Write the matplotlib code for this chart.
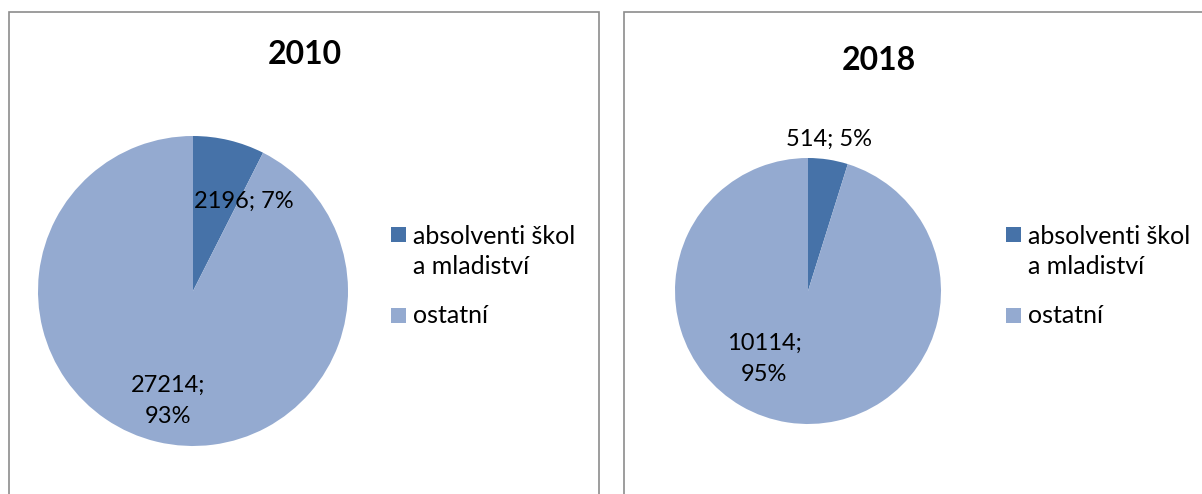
import matplotlib
matplotlib.use("Agg")
import matplotlib.pyplot as plt
from matplotlib.patches import Rectangle

plt.rcParams["font.family"] = ["Lato", "DejaVu Sans"]

# data
years = ["2010", "2018"]
categories = ["absolventi škol\na mladiství", "ostatní"]
values_2010 = [2196, 27214]
values_2018 = [514, 10114]
pct_2010 = ["7%", "93%"]
pct_2018 = ["5%", "95%"]
colors = ["#4672A8", "#94AAD0"]

W, H = 1202, 494
fig = plt.figure(figsize=(W / 100, H / 100), dpi=100)


def px_axes(cx, cy, r):
    # axes centred on pixel (cx, cy) measured from top-left
    return fig.add_axes([(cx - r) / W, (H - cy - r) / H, 2 * r / W, 2 * r / H])


def px_rect(x, y, w, h, **kw):
    # rectangle from top-left pixel coords
    fig.patches.append(Rectangle((x / W, 1 - (y + h) / H), w / W, h / H,
                                 transform=fig.transFigure, **kw))


# panel frames
for x0, x1 in [(8.5, 598.5), (623.5, 1210)]:
    px_rect(x0, 11.5, x1 - x0, H + 20, fill=False, edgecolor="#8c8c8c",
            linewidth=1.2)

panels = [
    dict(cx=193, cy=291, r=155, title_x=305, title_y=55, values=values_2010,
         pct=pct_2010, label_pos=[(0.33, 0.58), (-0.16, -0.71)],
         label_fmt=["{}; {}", "{};\n{}"], leg_x=391),
    dict(cx=808, cy=291, r=133, title_x=879, title_y=60, values=values_2018,
         pct=pct_2018, label_pos=[(0.16, 1.14), (-0.33, -0.51)],
         label_fmt=["{}; {}", "{};\n{}"], leg_x=1006),
]

# legend rows: square top (px) and text top (px)
leg_square_y = [227, 307.5]
leg_text_y = [225, 304]

for year, p in zip(years, panels):
    ax = px_axes(p["cx"], p["cy"], p["r"])
    wedges, _ = ax.pie(p["values"], colors=colors, startangle=90,
                       counterclock=False, radius=1)
    ax.set_xlim(-1, 1)
    ax.set_ylim(-1, 1)
    ax.set_aspect("auto")
    ax.axis("off")
    for (lx, ly), fmt, v, pc in zip(p["label_pos"], p["label_fmt"],
                                    p["values"], p["pct"]):
        ax.text(lx, ly, fmt.format(v, pc), ha="center", va="center",
                fontsize=17, linespacing=1.6, clip_on=False)
    fig.text(p["title_x"] / W, 1 - p["title_y"] / H, year, ha="center",
             va="center", fontsize=23, fontweight="bold")
    # legend, square aligned with first text line
    for cat, col, sy, ty in zip(categories, colors, leg_square_y, leg_text_y):
        px_rect(p["leg_x"], sy, 15, 15, facecolor=col, edgecolor="none")
        fig.text((p["leg_x"] + 22) / W, 1 - ty / H, cat, ha="left",
                 va="top", fontsize=18, linespacing=1.38)

fig.savefig("out.png", dpi=100)
